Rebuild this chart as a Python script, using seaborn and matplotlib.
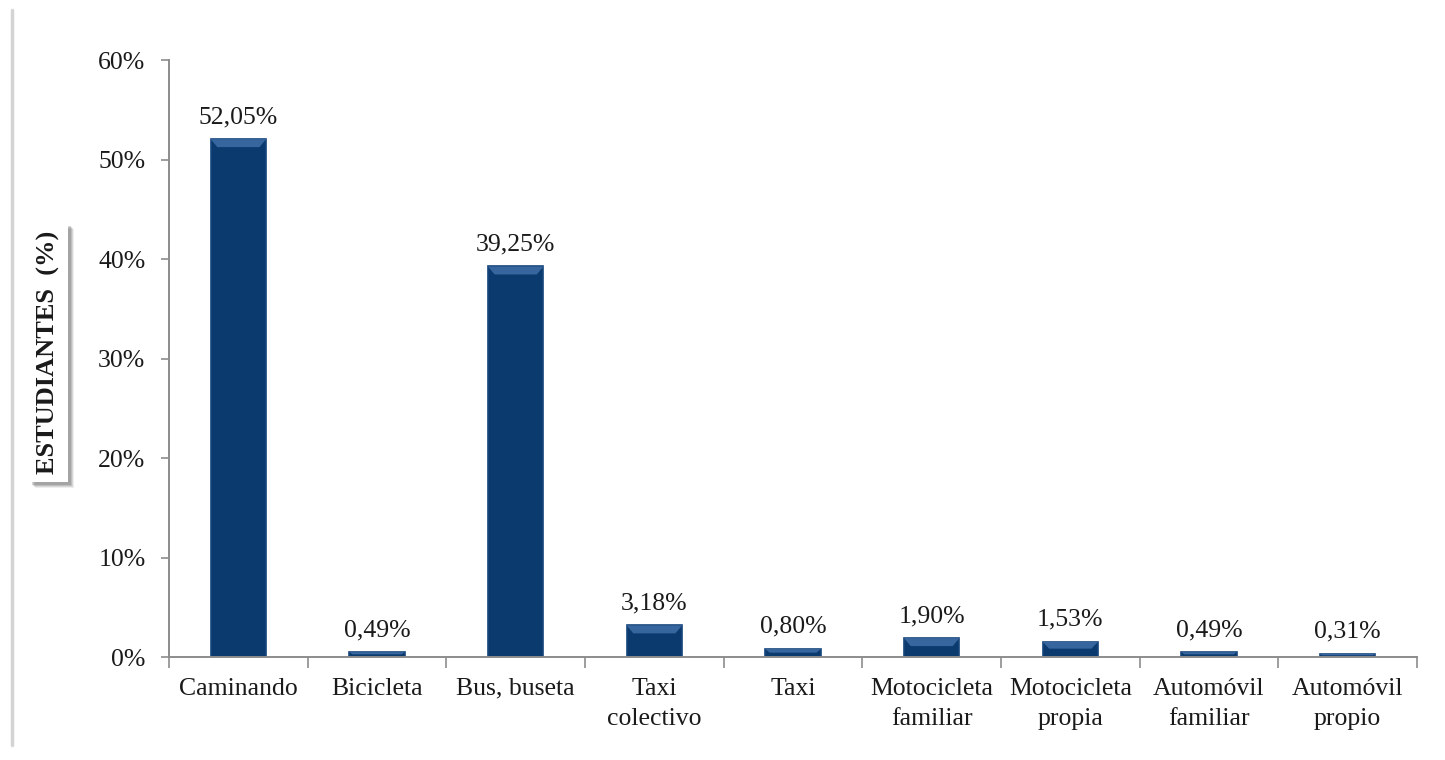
import matplotlib.pyplot as plt
import numpy as np
import pandas as pd
import seaborn as sns
from matplotlib.lines import Line2D
from matplotlib.patches import Polygon, Rectangle
from matplotlib.ticker import FixedLocator, FuncFormatter

sns.set_theme(style="white")
plt.rcParams["font.family"] = ["Liberation Serif", "DejaVu Serif"]

CATEGORIES = [
    "Caminando",
    "Bicicleta",
    "Bus, buseta",
    "Taxi\ncolectivo",
    "Taxi",
    "Motocicleta\nfamiliar",
    "Motocicleta\npropia",
    "Automóvil\nfamiliar",
    "Automóvil\npropio",
]
PERCENTAGES = [52.05, 0.49, 39.25, 3.18, 0.80, 1.90, 1.53, 0.49, 0.31]
Y_TICKS = [0, 10, 20, 30, 40, 50, 60]

AXIS_GREY = "#8c8c8c"
BAR_COLOR = "#0b3a6e"
BEVEL_COLOR = "#3f6ea8"
TEXT_COLOR = "#1a1a1a"
FONT_SIZE = 18.5

W_PX, H_PX = 1445, 760

df = pd.DataFrame({"medio": CATEGORIES, "pct": PERCENTAGES})

fig = plt.figure(figsize=(W_PX / 100, H_PX / 100), dpi=100)
ax = fig.add_axes([0.117, 0.1355, 0.8636, 0.7855])

sns.barplot(
    data=df,
    x="medio",
    y="pct",
    color=BAR_COLOR,
    width=0.4,
    saturation=1,
    edgecolor="#16457c",
    linewidth=1.2,
    ax=ax,
)

ax.set_xlim(-0.5, len(CATEGORIES) - 0.5)
ax.set_ylim(0, 60)

# bevel highlight on the top of each bar (Excel style)
for patch in list(ax.patches):
    x0 = patch.get_x()
    w = patch.get_width()
    h = patch.get_height()
    bh = min(0.8, h * 0.45)
    bw = min(w * 0.12, w * 0.12 * bh / 0.8 + 0.01)
    ax.add_patch(Polygon(
        [(x0, h), (x0 + w, h), (x0 + w - bw, h - bh), (x0 + bw, h - bh)],
        closed=True, facecolor=BEVEL_COLOR, edgecolor="none", alpha=0.85, zorder=patch.get_zorder() + 0.1,
    ))

for patch, value in zip(ax.patches, PERCENTAGES):
    ax.annotate(
        f"{value:.2f}%".replace(".", ","),
        (patch.get_x() + patch.get_width() / 2, patch.get_height()),
        xytext=(0, 8),
        textcoords="offset points",
        ha="center",
        va="bottom",
        fontsize=FONT_SIZE,
        color=TEXT_COLOR,
    )

ax.yaxis.set_major_locator(FixedLocator(Y_TICKS))
ax.yaxis.set_major_formatter(FuncFormatter(lambda v, _: f"{v:.0f}%"))
ax.xaxis.set_minor_locator(FixedLocator(np.arange(-0.5, len(CATEGORIES), 1.0)))

ax.tick_params(axis="x", which="major", length=0, pad=15, labelsize=FONT_SIZE, labelcolor=TEXT_COLOR)
ax.tick_params(axis="x", which="minor", length=8, width=1.2, color=AXIS_GREY, direction="out", bottom=True)
ax.tick_params(axis="y", length=6, width=1.2, color=AXIS_GREY, direction="out", left=True, pad=11,
               labelsize=FONT_SIZE, labelcolor=TEXT_COLOR)
for lbl in ax.get_xticklabels():
    lbl.set_linespacing(1.5)

for side in ("top", "right"):
    ax.spines[side].set_visible(False)
for side in ("left", "bottom"):
    ax.spines[side].set_color(AXIS_GREY)
    ax.spines[side].set_linewidth(1.4)

ax.set_xlabel("")
ax.set_ylabel("")

# y label in a white box with a soft drop shadow
box_x, box_y, box_w, box_h = 29 / W_PX, 1 - 482 / H_PX, 39 / W_PX, 259 / H_PX
for off, alpha in [(6, 0.10), (5, 0.15), (4, 0.2), (3, 0.25)]:
    fig.add_artist(Rectangle(
        (box_x + off / W_PX, box_y - off / H_PX), box_w, box_h,
        transform=fig.transFigure, facecolor="#5a5a5a", edgecolor="none", alpha=alpha, zorder=1,
    ))
fig.add_artist(Rectangle(
    (box_x, box_y), box_w, box_h,
    transform=fig.transFigure, facecolor="white", edgecolor="none", zorder=2,
))
fig.text(
    box_x + box_w / 2, box_y + box_h / 2, "ESTUDIANTES  (%)",
    rotation=90, ha="center", va="center", fontsize=19, fontweight="bold",
    color=TEXT_COLOR, zorder=3,
)

# left border of the chart area
fig.add_artist(Line2D([0.0083, 0.0083], [0.02, 0.987], transform=fig.transFigure,
                      color="#d4d4d4", linewidth=2.5))

fig.savefig("out.png", dpi=100)
